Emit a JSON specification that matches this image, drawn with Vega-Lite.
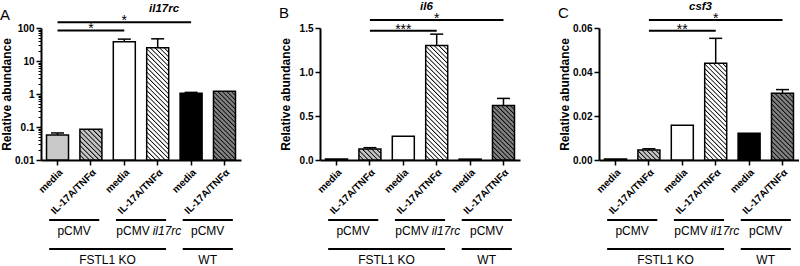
{
  "$schema": "https://vega.github.io/schema/vega-lite/v6.json",
  "background": "white",
  "padding": {"left": 0, "top": 0, "right": 0, "bottom": 0},
  "spacing": 38,
  "config": {
    "view": {"stroke": null},
    "font": "Liberation Sans",
    "axis": {"domainColor": "black", "domainWidth": 2, "tickColor": "black", "tickWidth": 1.5, "tickSize": 5, "labelFont": "Liberation Sans", "labelFontWeight": "bold", "labelFontSize": 10, "labelColor": "black", "titleFont": "Liberation Sans", "titleFontWeight": "bold", "titleFontSize": 12, "titleColor": "black", "grid": false},
    "title": {"font": "Liberation Sans", "color": "black"}
  },
  "datasets": {
    "bars": [
      {"panel": "A", "bar": "1|media", "value": 0.057, "upper": 0.066},
      {"panel": "A", "bar": "2|IL-17A/TNFα", "value": 0.085},
      {"panel": "A", "bar": "3|media", "value": 38, "upper": 46},
      {"panel": "A", "bar": "4|IL-17A/TNFα", "value": 25, "upper": 47},
      {"panel": "A", "bar": "5|media", "value": 1.05, "upper": 1.12},
      {"panel": "A", "bar": "6|IL-17A/TNFα", "value": 1.22},
      {"panel": "B", "bar": "1|media", "value": 0.012},
      {"panel": "B", "bar": "2|IL-17A/TNFα", "value": 0.125, "upper": 0.14},
      {"panel": "B", "bar": "3|media", "value": 0.27},
      {"panel": "B", "bar": "4|IL-17A/TNFα", "value": 1.3, "upper": 1.43},
      {"panel": "B", "bar": "5|media", "value": 0.01},
      {"panel": "B", "bar": "6|IL-17A/TNFα", "value": 0.62, "upper": 0.7},
      {"panel": "C", "bar": "1|media", "value": 0.0004},
      {"panel": "C", "bar": "2|IL-17A/TNFα", "value": 0.0045, "upper": 0.0051},
      {"panel": "C", "bar": "3|media", "value": 0.0158},
      {"panel": "C", "bar": "4|IL-17A/TNFα", "value": 0.044, "upper": 0.0553},
      {"panel": "C", "bar": "5|media", "value": 0.0122},
      {"panel": "C", "bar": "6|IL-17A/TNFα", "value": 0.0303, "upper": 0.032}
    ],
    "sig": [
      {"panel": "A", "from": "1|media", "to": "3|media", "mid": "2|IL-17A/TNFα", "y": 84, "label": "*"},
      {"panel": "A", "from": "1|media", "to": "5|media", "mid": "3|media", "y": 150, "label": "*"},
      {"panel": "B", "from": "2|IL-17A/TNFα", "to": "4|IL-17A/TNFα", "mid": "3|media", "y": 1.47, "label": "***"},
      {"panel": "B", "from": "2|IL-17A/TNFα", "to": "6|IL-17A/TNFα", "mid": "4|IL-17A/TNFα", "y": 1.59, "label": "*"},
      {"panel": "C", "from": "2|IL-17A/TNFα", "to": "4|IL-17A/TNFα", "mid": "3|media", "y": 0.0588, "label": "**"},
      {"panel": "C", "from": "2|IL-17A/TNFα", "to": "6|IL-17A/TNFα", "mid": "4|IL-17A/TNFα", "y": 0.0636, "label": "*"}
    ],
    "groups": [
      {"level": "1", "from": "1|media", "to": "2|IL-17A/TNFα", "mid": "2|IL-17A/TNFα", "label": "pCMV"},
      {"level": "1", "from": "3|media", "to": "4|IL-17A/TNFα", "mid": "4|IL-17A/TNFα", "label": "pCMV", "suffix": "il17rc"},
      {"level": "1", "from": "5|media", "to": "6|IL-17A/TNFα", "mid": "6|IL-17A/TNFα", "label": "pCMV"},
      {"level": "2", "from": "1|media", "to": "4|IL-17A/TNFα", "mid": "3|media", "label": "FSTL1 KO"},
      {"level": "2", "from": "5|media", "to": "6|IL-17A/TNFα", "mid": "6|IL-17A/TNFα", "label": "WT"}
    ]
  },
  "hconcat": [
    {
      "title": {"text": "A", "anchor": "start", "frame": "bounds", "fontSize": 15, "fontWeight": "normal", "offset": -20},
      "vconcat": [
        {
          "title": {"text": "il17rc", "fontStyle": "italic", "fontWeight": "bold", "fontSize": 11.5, "anchor": "start", "frame": "group", "dx": 108, "offset": 0},
          "width": 200, "height": 132,
          "resolve": {"scale": {"y": "independent"}},
          "layer": [
            {
              "layer": [
                {
                  "data": {"name": "bars"}, "transform": [{"filter": "datum.panel == 'A'"}],
                  "mark": {"type": "bar", "stroke": "black", "strokeWidth": 1.5},
                  "encoding": {
                    "x": {"field": "bar", "type": "nominal", "title": null, "scale": {"domain": ["1|media", "2|IL-17A/TNFα", "3|media", "4|IL-17A/TNFα", "5|media", "6|IL-17A/TNFα"], "paddingInner": 0.341, "paddingOuter": 0.165}, "axis": {"labelAngle": -45, "labelExpr": "split(datum.value, '|')[1]", "labelPadding": 2, "title": null}},
                    "y": {"field": "value", "type": "quantitative", "title": "Relative abundance", "scale": {"type": "log", "domain": [0.01, 100], "nice": false}, "axis": {"title": "Relative abundance", "values": [0.01, 0.1, 1, 10, 100], "format": "~g", "minExtent": 24, "maxExtent": 24, "labelPadding": 2, "titlePadding": 4}},
                    "y2": {"datum": 0.01},
                    "fill": {"field": "bar", "type": "nominal", "legend": null, "scale": {"domain": ["1|media", "2|IL-17A/TNFα", "3|media", "4|IL-17A/TNFα", "5|media", "6|IL-17A/TNFα"], "range": ["#c8c8c8", "#8c8c8c", "#ffffff", "#a8a8a8", "#000000", "#404040"]},
                      "condition": [
                        {"test": "datum.bar == '2|IL-17A/TNFα'", "value": {"gradient": "linear", "x1": 0, "y1": 1, "x2": 0.8127, "y2": -0.134, "stops": [
                          {"offset": 0, "color": "#000"}, {"offset": 0.0273, "color": "#c4c4c4"}, {"offset": 0.0727, "color": "#c4c4c4"},
                          {"offset": 0.0909, "color": "#000"}, {"offset": 0.1182, "color": "#c4c4c4"}, {"offset": 0.1636, "color": "#c4c4c4"},
                          {"offset": 0.1818, "color": "#000"}, {"offset": 0.2091, "color": "#c4c4c4"}, {"offset": 0.2545, "color": "#c4c4c4"},
                          {"offset": 0.2727, "color": "#000"}, {"offset": 0.3, "color": "#c4c4c4"}, {"offset": 0.3455, "color": "#c4c4c4"},
                          {"offset": 0.3636, "color": "#000"}, {"offset": 0.3909, "color": "#c4c4c4"}, {"offset": 0.4364, "color": "#c4c4c4"},
                          {"offset": 0.4545, "color": "#000"}, {"offset": 0.4818, "color": "#c4c4c4"}, {"offset": 0.5273, "color": "#c4c4c4"},
                          {"offset": 0.5455, "color": "#000"}, {"offset": 0.5727, "color": "#c4c4c4"}, {"offset": 0.6182, "color": "#c4c4c4"},
                          {"offset": 0.6364, "color": "#000"}, {"offset": 0.6636, "color": "#c4c4c4"}, {"offset": 0.7091, "color": "#c4c4c4"},
                          {"offset": 0.7273, "color": "#000"}, {"offset": 0.7545, "color": "#c4c4c4"}, {"offset": 0.8, "color": "#c4c4c4"},
                          {"offset": 0.8182, "color": "#000"}, {"offset": 0.8455, "color": "#c4c4c4"}, {"offset": 0.8909, "color": "#c4c4c4"},
                          {"offset": 0.9091, "color": "#000"}, {"offset": 0.9364, "color": "#c4c4c4"}, {"offset": 0.9818, "color": "#c4c4c4"},
                          {"offset": 1, "color": "#000"}]}},
                        {"test": "datum.bar == '4|IL-17A/TNFα'", "value": {"gradient": "linear", "x1": 0, "y1": 1, "x2": 0.2263, "y2": -0.152, "stops": [
                          {"offset": 0, "color": "#000"}, {"offset": 0.0103, "color": "#fff"}, {"offset": 0.0276, "color": "#fff"},
                          {"offset": 0.0345, "color": "#000"}, {"offset": 0.0448, "color": "#fff"}, {"offset": 0.0621, "color": "#fff"},
                          {"offset": 0.069, "color": "#000"}, {"offset": 0.0793, "color": "#fff"}, {"offset": 0.0966, "color": "#fff"},
                          {"offset": 0.1034, "color": "#000"}, {"offset": 0.1138, "color": "#fff"}, {"offset": 0.131, "color": "#fff"},
                          {"offset": 0.1379, "color": "#000"}, {"offset": 0.1483, "color": "#fff"}, {"offset": 0.1655, "color": "#fff"},
                          {"offset": 0.1724, "color": "#000"}, {"offset": 0.1828, "color": "#fff"}, {"offset": 0.2, "color": "#fff"},
                          {"offset": 0.2069, "color": "#000"}, {"offset": 0.2172, "color": "#fff"}, {"offset": 0.2345, "color": "#fff"},
                          {"offset": 0.2414, "color": "#000"}, {"offset": 0.2517, "color": "#fff"}, {"offset": 0.269, "color": "#fff"},
                          {"offset": 0.2759, "color": "#000"}, {"offset": 0.2862, "color": "#fff"}, {"offset": 0.3034, "color": "#fff"},
                          {"offset": 0.3103, "color": "#000"}, {"offset": 0.3207, "color": "#fff"}, {"offset": 0.3379, "color": "#fff"},
                          {"offset": 0.3448, "color": "#000"}, {"offset": 0.3552, "color": "#fff"}, {"offset": 0.3724, "color": "#fff"},
                          {"offset": 0.3793, "color": "#000"}, {"offset": 0.3897, "color": "#fff"}, {"offset": 0.4069, "color": "#fff"},
                          {"offset": 0.4138, "color": "#000"}, {"offset": 0.4241, "color": "#fff"}, {"offset": 0.4414, "color": "#fff"},
                          {"offset": 0.4483, "color": "#000"}, {"offset": 0.4586, "color": "#fff"}, {"offset": 0.4759, "color": "#fff"},
                          {"offset": 0.4828, "color": "#000"}, {"offset": 0.4931, "color": "#fff"}, {"offset": 0.5103, "color": "#fff"},
                          {"offset": 0.5172, "color": "#000"}, {"offset": 0.5276, "color": "#fff"}, {"offset": 0.5448, "color": "#fff"},
                          {"offset": 0.5517, "color": "#000"}, {"offset": 0.5621, "color": "#fff"}, {"offset": 0.5793, "color": "#fff"},
                          {"offset": 0.5862, "color": "#000"}, {"offset": 0.5966, "color": "#fff"}, {"offset": 0.6138, "color": "#fff"},
                          {"offset": 0.6207, "color": "#000"}, {"offset": 0.631, "color": "#fff"}, {"offset": 0.6483, "color": "#fff"},
                          {"offset": 0.6552, "color": "#000"}, {"offset": 0.6655, "color": "#fff"}, {"offset": 0.6828, "color": "#fff"},
                          {"offset": 0.6897, "color": "#000"}, {"offset": 0.7, "color": "#fff"}, {"offset": 0.7172, "color": "#fff"},
                          {"offset": 0.7241, "color": "#000"}, {"offset": 0.7345, "color": "#fff"}, {"offset": 0.7517, "color": "#fff"},
                          {"offset": 0.7586, "color": "#000"}, {"offset": 0.769, "color": "#fff"}, {"offset": 0.7862, "color": "#fff"},
                          {"offset": 0.7931, "color": "#000"}, {"offset": 0.8034, "color": "#fff"}, {"offset": 0.8207, "color": "#fff"},
                          {"offset": 0.8276, "color": "#000"}, {"offset": 0.8379, "color": "#fff"}, {"offset": 0.8552, "color": "#fff"},
                          {"offset": 0.8621, "color": "#000"}, {"offset": 0.8724, "color": "#fff"}, {"offset": 0.8897, "color": "#fff"},
                          {"offset": 0.8966, "color": "#000"}, {"offset": 0.9069, "color": "#fff"}, {"offset": 0.9241, "color": "#fff"},
                          {"offset": 0.931, "color": "#000"}, {"offset": 0.9414, "color": "#fff"}, {"offset": 0.9586, "color": "#fff"},
                          {"offset": 0.9655, "color": "#000"}, {"offset": 0.9759, "color": "#fff"}, {"offset": 0.9931, "color": "#fff"},
                          {"offset": 1, "color": "#000"}]}},
                        {"test": "datum.bar == '6|IL-17A/TNFα'", "value": {"gradient": "linear", "x1": 0, "y1": 1, "x2": 0.3823, "y2": -0.197, "stops": [
                          {"offset": 0, "color": "#000"}, {"offset": 0.015, "color": "#808080"}, {"offset": 0.04, "color": "#808080"},
                          {"offset": 0.05, "color": "#000"}, {"offset": 0.065, "color": "#808080"}, {"offset": 0.09, "color": "#808080"},
                          {"offset": 0.1, "color": "#000"}, {"offset": 0.115, "color": "#808080"}, {"offset": 0.14, "color": "#808080"},
                          {"offset": 0.15, "color": "#000"}, {"offset": 0.165, "color": "#808080"}, {"offset": 0.19, "color": "#808080"},
                          {"offset": 0.2, "color": "#000"}, {"offset": 0.215, "color": "#808080"}, {"offset": 0.24, "color": "#808080"},
                          {"offset": 0.25, "color": "#000"}, {"offset": 0.265, "color": "#808080"}, {"offset": 0.29, "color": "#808080"},
                          {"offset": 0.3, "color": "#000"}, {"offset": 0.315, "color": "#808080"}, {"offset": 0.34, "color": "#808080"},
                          {"offset": 0.35, "color": "#000"}, {"offset": 0.365, "color": "#808080"}, {"offset": 0.39, "color": "#808080"},
                          {"offset": 0.4, "color": "#000"}, {"offset": 0.415, "color": "#808080"}, {"offset": 0.44, "color": "#808080"},
                          {"offset": 0.45, "color": "#000"}, {"offset": 0.465, "color": "#808080"}, {"offset": 0.49, "color": "#808080"},
                          {"offset": 0.5, "color": "#000"}, {"offset": 0.515, "color": "#808080"}, {"offset": 0.54, "color": "#808080"},
                          {"offset": 0.55, "color": "#000"}, {"offset": 0.565, "color": "#808080"}, {"offset": 0.59, "color": "#808080"},
                          {"offset": 0.6, "color": "#000"}, {"offset": 0.615, "color": "#808080"}, {"offset": 0.64, "color": "#808080"},
                          {"offset": 0.65, "color": "#000"}, {"offset": 0.665, "color": "#808080"}, {"offset": 0.69, "color": "#808080"},
                          {"offset": 0.7, "color": "#000"}, {"offset": 0.715, "color": "#808080"}, {"offset": 0.74, "color": "#808080"},
                          {"offset": 0.75, "color": "#000"}, {"offset": 0.765, "color": "#808080"}, {"offset": 0.79, "color": "#808080"},
                          {"offset": 0.8, "color": "#000"}, {"offset": 0.815, "color": "#808080"}, {"offset": 0.84, "color": "#808080"},
                          {"offset": 0.85, "color": "#000"}, {"offset": 0.865, "color": "#808080"}, {"offset": 0.89, "color": "#808080"},
                          {"offset": 0.9, "color": "#000"}, {"offset": 0.915, "color": "#808080"}, {"offset": 0.94, "color": "#808080"},
                          {"offset": 0.95, "color": "#000"}, {"offset": 0.965, "color": "#808080"}, {"offset": 0.99, "color": "#808080"},
                          {"offset": 1, "color": "#000"}]}}
                      ]
                    }
                  }
                },
                {
                  "data": {"name": "bars"}, "transform": [{"filter": "datum.panel == 'A' && isValid(datum.upper)"}],
                  "mark": {"type": "rule", "strokeWidth": 1.5, "color": "black"},
                  "encoding": {"x": {"field": "bar", "type": "nominal", "title": null}, "y": {"field": "value", "type": "quantitative", "title": "Relative abundance"}, "y2": {"field": "upper"}}
                },
                {
                  "data": {"name": "bars"}, "transform": [{"filter": "datum.panel == 'A' && isValid(datum.upper)"}],
                  "mark": {"type": "tick", "thickness": 1.5, "size": 13, "color": "black", "opacity": 1},
                  "encoding": {"x": {"field": "bar", "type": "nominal", "title": null}, "y": {"field": "upper", "type": "quantitative", "title": "Relative abundance"}}
                },
                {
                  "data": {"name": "sig"}, "transform": [{"filter": "datum.panel == 'A'"}],
                  "mark": {"type": "rule", "strokeWidth": 2, "color": "black"},
                  "encoding": {"x": {"field": "from", "type": "nominal", "title": null}, "x2": {"field": "to"}, "y": {"field": "y", "type": "quantitative", "title": "Relative abundance"}}
                },
                {
                  "data": {"name": "sig"}, "transform": [{"filter": "datum.panel == 'A'"}],
                  "mark": {"type": "text", "fontSize": 14, "baseline": "alphabetic", "dy": 3, "color": "black"},
                  "encoding": {"x": {"field": "mid", "type": "nominal", "title": null}, "y": {"field": "y", "type": "quantitative", "title": "Relative abundance"}, "text": {"field": "label"}}
                }
              ]
            },
            {
              "data": {"name": "bars"}, "transform": [{"filter": "datum.panel == 'A'"}],
              "mark": {"type": "tick", "opacity": 0},
              "encoding": {
                "x": {"field": "bar", "type": "nominal", "title": null},
                "y": {"field": "value", "type": "quantitative", "scale": {"type": "log", "domain": [0.01, 100], "nice": false}, "axis": {"orient": "left", "title": null, "labels": false, "domain": false, "tickSize": 3, "tickWidth": 1, "values": [0.02, 0.03, 0.04, 0.05, 0.06, 0.07, 0.08, 0.09, 0.2, 0.3, 0.4, 0.5, 0.6, 0.7, 0.8, 0.9, 2, 3, 4, 5, 6, 7, 8, 9, 20, 30, 40, 50, 60, 70, 80, 90]}}
              }
            },
            {
              "data": {"name": "groups"},
              "encoding": {"y": {"field": "level", "type": "ordinal", "scale": {"type": "point", "domain": ["1", "2"], "range": [192, 221], "padding": 0}, "axis": null}},
              "layer": [
                {"mark": {"type": "rule", "strokeWidth": 2, "color": "black"}, "encoding": {"x": {"field": "from", "type": "nominal", "bandPosition": 0.12, "title": null}, "x2": {"field": "to", "bandPosition": 0.88}}},
                {"transform": [{"filter": "!isValid(datum.suffix)"}], "mark": {"type": "text", "fontSize": 12, "baseline": "middle", "dy": 11, "dx": -5.8, "color": "black"}, "encoding": {"x": {"field": "mid", "type": "nominal", "bandPosition": 0, "title": null}, "text": {"field": "label"}}},
                {"transform": [{"filter": "isValid(datum.suffix)"}], "mark": {"type": "text", "fontSize": 12, "baseline": "middle", "align": "right", "dy": 11, "dx": 3, "color": "black"}, "encoding": {"x": {"field": "mid", "type": "nominal", "bandPosition": 0, "title": null}, "text": {"field": "label"}}},
                {"transform": [{"filter": "isValid(datum.suffix)"}], "mark": {"type": "text", "fontSize": 12, "fontStyle": "italic", "baseline": "middle", "align": "left", "dy": 11, "dx": 6, "color": "black"}, "encoding": {"x": {"field": "mid", "type": "nominal", "bandPosition": 0, "title": null}, "text": {"field": "suffix"}}}
              ]
            }
          ]
        }
      ]
    },
    {
      "title": {"text": "B", "anchor": "start", "frame": "bounds", "fontSize": 15, "fontWeight": "normal", "offset": -20},
      "vconcat": [
        {
          "title": {"text": "il6", "fontStyle": "italic", "fontWeight": "bold", "fontSize": 11.5, "anchor": "start", "frame": "group", "dx": 100, "offset": 0},
          "width": 200, "height": 132,
          "resolve": {"scale": {"y": "independent"}},
          "layer": [
            {
              "layer": [
                {
                  "data": {"name": "bars"}, "transform": [{"filter": "datum.panel == 'B'"}],
                  "mark": {"type": "bar", "stroke": "black", "strokeWidth": 1.5},
                  "encoding": {
                    "x": {"field": "bar", "type": "nominal", "title": null, "scale": {"domain": ["1|media", "2|IL-17A/TNFα", "3|media", "4|IL-17A/TNFα", "5|media", "6|IL-17A/TNFα"], "paddingInner": 0.341, "paddingOuter": 0.165}, "axis": {"labelAngle": -45, "labelExpr": "split(datum.value, '|')[1]", "labelPadding": 2, "title": null}},
                    "y": {"field": "value", "type": "quantitative", "title": "Relative abundance", "scale": {"domain": [0, 1.5], "nice": false}, "axis": {"title": "Relative abundance", "values": [0, 0.5, 1, 1.5], "format": ".1f", "minExtent": 24, "maxExtent": 24, "labelPadding": 2, "titlePadding": 4}},
                    "fill": {"field": "bar", "type": "nominal", "legend": null, "scale": {"domain": ["1|media", "2|IL-17A/TNFα", "3|media", "4|IL-17A/TNFα", "5|media", "6|IL-17A/TNFα"], "range": ["#c8c8c8", "#8c8c8c", "#ffffff", "#a8a8a8", "#000000", "#404040"]},
                      "condition": [
                        {"test": "datum.bar == '2|IL-17A/TNFα'", "value": {"gradient": "linear", "x1": 0, "y1": 1, "x2": 1.2, "y2": 0.4, "stops": [
                          {"offset": 0, "color": "#000"}, {"offset": 0.0429, "color": "#c4c4c4"}, {"offset": 0.1143, "color": "#c4c4c4"},
                          {"offset": 0.1429, "color": "#000"}, {"offset": 0.1857, "color": "#c4c4c4"}, {"offset": 0.2571, "color": "#c4c4c4"},
                          {"offset": 0.2857, "color": "#000"}, {"offset": 0.3286, "color": "#c4c4c4"}, {"offset": 0.4, "color": "#c4c4c4"},
                          {"offset": 0.4286, "color": "#000"}, {"offset": 0.4714, "color": "#c4c4c4"}, {"offset": 0.5429, "color": "#c4c4c4"},
                          {"offset": 0.5714, "color": "#000"}, {"offset": 0.6143, "color": "#c4c4c4"}, {"offset": 0.6857, "color": "#c4c4c4"},
                          {"offset": 0.7143, "color": "#000"}, {"offset": 0.7571, "color": "#c4c4c4"}, {"offset": 0.8286, "color": "#c4c4c4"},
                          {"offset": 0.8571, "color": "#000"}, {"offset": 0.9, "color": "#c4c4c4"}, {"offset": 0.9714, "color": "#c4c4c4"},
                          {"offset": 1, "color": "#000"}]}},
                        {"test": "datum.bar == '4|IL-17A/TNFα'", "value": {"gradient": "linear", "x1": 0, "y1": 1, "x2": 0.2211, "y2": -0.15, "stops": [
                          {"offset": 0, "color": "#000"}, {"offset": 0.01, "color": "#fff"}, {"offset": 0.0267, "color": "#fff"},
                          {"offset": 0.0333, "color": "#000"}, {"offset": 0.0433, "color": "#fff"}, {"offset": 0.06, "color": "#fff"},
                          {"offset": 0.0667, "color": "#000"}, {"offset": 0.0767, "color": "#fff"}, {"offset": 0.0933, "color": "#fff"},
                          {"offset": 0.1, "color": "#000"}, {"offset": 0.11, "color": "#fff"}, {"offset": 0.1267, "color": "#fff"},
                          {"offset": 0.1333, "color": "#000"}, {"offset": 0.1433, "color": "#fff"}, {"offset": 0.16, "color": "#fff"},
                          {"offset": 0.1667, "color": "#000"}, {"offset": 0.1767, "color": "#fff"}, {"offset": 0.1933, "color": "#fff"},
                          {"offset": 0.2, "color": "#000"}, {"offset": 0.21, "color": "#fff"}, {"offset": 0.2267, "color": "#fff"},
                          {"offset": 0.2333, "color": "#000"}, {"offset": 0.2433, "color": "#fff"}, {"offset": 0.26, "color": "#fff"},
                          {"offset": 0.2667, "color": "#000"}, {"offset": 0.2767, "color": "#fff"}, {"offset": 0.2933, "color": "#fff"},
                          {"offset": 0.3, "color": "#000"}, {"offset": 0.31, "color": "#fff"}, {"offset": 0.3267, "color": "#fff"},
                          {"offset": 0.3333, "color": "#000"}, {"offset": 0.3433, "color": "#fff"}, {"offset": 0.36, "color": "#fff"},
                          {"offset": 0.3667, "color": "#000"}, {"offset": 0.3767, "color": "#fff"}, {"offset": 0.3933, "color": "#fff"},
                          {"offset": 0.4, "color": "#000"}, {"offset": 0.41, "color": "#fff"}, {"offset": 0.4267, "color": "#fff"},
                          {"offset": 0.4333, "color": "#000"}, {"offset": 0.4433, "color": "#fff"}, {"offset": 0.46, "color": "#fff"},
                          {"offset": 0.4667, "color": "#000"}, {"offset": 0.4767, "color": "#fff"}, {"offset": 0.4933, "color": "#fff"},
                          {"offset": 0.5, "color": "#000"}, {"offset": 0.51, "color": "#fff"}, {"offset": 0.5267, "color": "#fff"},
                          {"offset": 0.5333, "color": "#000"}, {"offset": 0.5433, "color": "#fff"}, {"offset": 0.56, "color": "#fff"},
                          {"offset": 0.5667, "color": "#000"}, {"offset": 0.5767, "color": "#fff"}, {"offset": 0.5933, "color": "#fff"},
                          {"offset": 0.6, "color": "#000"}, {"offset": 0.61, "color": "#fff"}, {"offset": 0.6267, "color": "#fff"},
                          {"offset": 0.6333, "color": "#000"}, {"offset": 0.6433, "color": "#fff"}, {"offset": 0.66, "color": "#fff"},
                          {"offset": 0.6667, "color": "#000"}, {"offset": 0.6767, "color": "#fff"}, {"offset": 0.6933, "color": "#fff"},
                          {"offset": 0.7, "color": "#000"}, {"offset": 0.71, "color": "#fff"}, {"offset": 0.7267, "color": "#fff"},
                          {"offset": 0.7333, "color": "#000"}, {"offset": 0.7433, "color": "#fff"}, {"offset": 0.76, "color": "#fff"},
                          {"offset": 0.7667, "color": "#000"}, {"offset": 0.7767, "color": "#fff"}, {"offset": 0.7933, "color": "#fff"},
                          {"offset": 0.8, "color": "#000"}, {"offset": 0.81, "color": "#fff"}, {"offset": 0.8267, "color": "#fff"},
                          {"offset": 0.8333, "color": "#000"}, {"offset": 0.8433, "color": "#fff"}, {"offset": 0.86, "color": "#fff"},
                          {"offset": 0.8667, "color": "#000"}, {"offset": 0.8767, "color": "#fff"}, {"offset": 0.8933, "color": "#fff"},
                          {"offset": 0.9, "color": "#000"}, {"offset": 0.91, "color": "#fff"}, {"offset": 0.9267, "color": "#fff"},
                          {"offset": 0.9333, "color": "#000"}, {"offset": 0.9433, "color": "#fff"}, {"offset": 0.96, "color": "#fff"},
                          {"offset": 0.9667, "color": "#000"}, {"offset": 0.9767, "color": "#fff"}, {"offset": 0.9933, "color": "#fff"},
                          {"offset": 1, "color": "#000"}]}},
                        {"test": "datum.bar == '6|IL-17A/TNFα'", "value": {"gradient": "linear", "x1": 0, "y1": 1, "x2": 0.4864, "y2": -0.207, "stops": [
                          {"offset": 0, "color": "#000"}, {"offset": 0.0176, "color": "#808080"}, {"offset": 0.0471, "color": "#808080"},
                          {"offset": 0.0588, "color": "#000"}, {"offset": 0.0765, "color": "#808080"}, {"offset": 0.1059, "color": "#808080"},
                          {"offset": 0.1176, "color": "#000"}, {"offset": 0.1353, "color": "#808080"}, {"offset": 0.1647, "color": "#808080"},
                          {"offset": 0.1765, "color": "#000"}, {"offset": 0.1941, "color": "#808080"}, {"offset": 0.2235, "color": "#808080"},
                          {"offset": 0.2353, "color": "#000"}, {"offset": 0.2529, "color": "#808080"}, {"offset": 0.2824, "color": "#808080"},
                          {"offset": 0.2941, "color": "#000"}, {"offset": 0.3118, "color": "#808080"}, {"offset": 0.3412, "color": "#808080"},
                          {"offset": 0.3529, "color": "#000"}, {"offset": 0.3706, "color": "#808080"}, {"offset": 0.4, "color": "#808080"},
                          {"offset": 0.4118, "color": "#000"}, {"offset": 0.4294, "color": "#808080"}, {"offset": 0.4588, "color": "#808080"},
                          {"offset": 0.4706, "color": "#000"}, {"offset": 0.4882, "color": "#808080"}, {"offset": 0.5176, "color": "#808080"},
                          {"offset": 0.5294, "color": "#000"}, {"offset": 0.5471, "color": "#808080"}, {"offset": 0.5765, "color": "#808080"},
                          {"offset": 0.5882, "color": "#000"}, {"offset": 0.6059, "color": "#808080"}, {"offset": 0.6353, "color": "#808080"},
                          {"offset": 0.6471, "color": "#000"}, {"offset": 0.6647, "color": "#808080"}, {"offset": 0.6941, "color": "#808080"},
                          {"offset": 0.7059, "color": "#000"}, {"offset": 0.7235, "color": "#808080"}, {"offset": 0.7529, "color": "#808080"},
                          {"offset": 0.7647, "color": "#000"}, {"offset": 0.7824, "color": "#808080"}, {"offset": 0.8118, "color": "#808080"},
                          {"offset": 0.8235, "color": "#000"}, {"offset": 0.8412, "color": "#808080"}, {"offset": 0.8706, "color": "#808080"},
                          {"offset": 0.8824, "color": "#000"}, {"offset": 0.9, "color": "#808080"}, {"offset": 0.9294, "color": "#808080"},
                          {"offset": 0.9412, "color": "#000"}, {"offset": 0.9588, "color": "#808080"}, {"offset": 0.9882, "color": "#808080"},
                          {"offset": 1, "color": "#000"}]}}
                      ]
                    }
                  }
                },
                {
                  "data": {"name": "bars"}, "transform": [{"filter": "datum.panel == 'B' && isValid(datum.upper)"}],
                  "mark": {"type": "rule", "strokeWidth": 1.5, "color": "black"},
                  "encoding": {"x": {"field": "bar", "type": "nominal", "title": null}, "y": {"field": "value", "type": "quantitative", "title": "Relative abundance"}, "y2": {"field": "upper"}}
                },
                {
                  "data": {"name": "bars"}, "transform": [{"filter": "datum.panel == 'B' && isValid(datum.upper)"}],
                  "mark": {"type": "tick", "thickness": 1.5, "size": 13, "color": "black", "opacity": 1},
                  "encoding": {"x": {"field": "bar", "type": "nominal", "title": null}, "y": {"field": "upper", "type": "quantitative", "title": "Relative abundance"}}
                },
                {
                  "data": {"name": "sig"}, "transform": [{"filter": "datum.panel == 'B'"}],
                  "mark": {"type": "rule", "strokeWidth": 2, "color": "black"},
                  "encoding": {"x": {"field": "from", "type": "nominal", "title": null}, "x2": {"field": "to"}, "y": {"field": "y", "type": "quantitative", "title": "Relative abundance"}}
                },
                {
                  "data": {"name": "sig"}, "transform": [{"filter": "datum.panel == 'B'"}],
                  "mark": {"type": "text", "fontSize": 14, "baseline": "alphabetic", "dy": 3, "color": "black"},
                  "encoding": {"x": {"field": "mid", "type": "nominal", "title": null}, "y": {"field": "y", "type": "quantitative", "title": "Relative abundance"}, "text": {"field": "label"}}
                }
              ]
            },
            {
              "data": {"name": "groups"},
              "encoding": {"y": {"field": "level", "type": "ordinal", "scale": {"type": "point", "domain": ["1", "2"], "range": [192, 221], "padding": 0}, "axis": null}},
              "layer": [
                {"mark": {"type": "rule", "strokeWidth": 2, "color": "black"}, "encoding": {"x": {"field": "from", "type": "nominal", "bandPosition": 0.12, "title": null}, "x2": {"field": "to", "bandPosition": 0.88}}},
                {"transform": [{"filter": "!isValid(datum.suffix)"}], "mark": {"type": "text", "fontSize": 12, "baseline": "middle", "dy": 11, "dx": -5.8, "color": "black"}, "encoding": {"x": {"field": "mid", "type": "nominal", "bandPosition": 0, "title": null}, "text": {"field": "label"}}},
                {"transform": [{"filter": "isValid(datum.suffix)"}], "mark": {"type": "text", "fontSize": 12, "baseline": "middle", "align": "right", "dy": 11, "dx": 3, "color": "black"}, "encoding": {"x": {"field": "mid", "type": "nominal", "bandPosition": 0, "title": null}, "text": {"field": "label"}}},
                {"transform": [{"filter": "isValid(datum.suffix)"}], "mark": {"type": "text", "fontSize": 12, "fontStyle": "italic", "baseline": "middle", "align": "left", "dy": 11, "dx": 6, "color": "black"}, "encoding": {"x": {"field": "mid", "type": "nominal", "bandPosition": 0, "title": null}, "text": {"field": "suffix"}}}
              ]
            }
          ]
        }
      ]
    },
    {
      "title": {"text": "C", "anchor": "start", "frame": "bounds", "fontSize": 15, "fontWeight": "normal", "offset": -20},
      "vconcat": [
        {
          "title": {"text": "csf3", "fontStyle": "italic", "fontWeight": "bold", "fontSize": 11.5, "anchor": "start", "frame": "group", "dx": 90, "offset": 0},
          "width": 200, "height": 132,
          "resolve": {"scale": {"y": "independent"}},
          "layer": [
            {
              "layer": [
                {
                  "data": {"name": "bars"}, "transform": [{"filter": "datum.panel == 'C'"}],
                  "mark": {"type": "bar", "stroke": "black", "strokeWidth": 1.5},
                  "encoding": {
                    "x": {"field": "bar", "type": "nominal", "title": null, "scale": {"domain": ["1|media", "2|IL-17A/TNFα", "3|media", "4|IL-17A/TNFα", "5|media", "6|IL-17A/TNFα"], "paddingInner": 0.341, "paddingOuter": 0.165}, "axis": {"labelAngle": -45, "labelExpr": "split(datum.value, '|')[1]", "labelPadding": 2, "title": null}},
                    "y": {"field": "value", "type": "quantitative", "title": "Relative abundance", "scale": {"domain": [0, 0.06], "nice": false}, "axis": {"title": "Relative abundance", "values": [0, 0.02, 0.04, 0.06], "format": ".2f", "minExtent": 24, "maxExtent": 24, "labelPadding": 2, "titlePadding": 4}},
                    "fill": {"field": "bar", "type": "nominal", "legend": null, "scale": {"domain": ["1|media", "2|IL-17A/TNFα", "3|media", "4|IL-17A/TNFα", "5|media", "6|IL-17A/TNFα"], "range": ["#c8c8c8", "#8c8c8c", "#ffffff", "#a8a8a8", "#000000", "#404040"]},
                      "condition": [
                        {"test": "datum.bar == '2|IL-17A/TNFα'", "value": {"gradient": "linear", "x1": 0, "y1": 1, "x2": 1.2058, "y2": 0.457, "stops": [
                          {"offset": 0, "color": "#000"}, {"offset": 0.0429, "color": "#c4c4c4"}, {"offset": 0.1143, "color": "#c4c4c4"},
                          {"offset": 0.1429, "color": "#000"}, {"offset": 0.1857, "color": "#c4c4c4"}, {"offset": 0.2571, "color": "#c4c4c4"},
                          {"offset": 0.2857, "color": "#000"}, {"offset": 0.3286, "color": "#c4c4c4"}, {"offset": 0.4, "color": "#c4c4c4"},
                          {"offset": 0.4286, "color": "#000"}, {"offset": 0.4714, "color": "#c4c4c4"}, {"offset": 0.5429, "color": "#c4c4c4"},
                          {"offset": 0.5714, "color": "#000"}, {"offset": 0.6143, "color": "#c4c4c4"}, {"offset": 0.6857, "color": "#c4c4c4"},
                          {"offset": 0.7143, "color": "#000"}, {"offset": 0.7571, "color": "#c4c4c4"}, {"offset": 0.8286, "color": "#c4c4c4"},
                          {"offset": 0.8571, "color": "#000"}, {"offset": 0.9, "color": "#c4c4c4"}, {"offset": 0.9714, "color": "#c4c4c4"},
                          {"offset": 1, "color": "#000"}]}},
                        {"test": "datum.bar == '4|IL-17A/TNFα'", "value": {"gradient": "linear", "x1": 0, "y1": 1, "x2": 0.2652, "y2": -0.167, "stops": [
                          {"offset": 0, "color": "#000"}, {"offset": 0.0115, "color": "#fff"}, {"offset": 0.0308, "color": "#fff"},
                          {"offset": 0.0385, "color": "#000"}, {"offset": 0.05, "color": "#fff"}, {"offset": 0.0692, "color": "#fff"},
                          {"offset": 0.0769, "color": "#000"}, {"offset": 0.0885, "color": "#fff"}, {"offset": 0.1077, "color": "#fff"},
                          {"offset": 0.1154, "color": "#000"}, {"offset": 0.1269, "color": "#fff"}, {"offset": 0.1462, "color": "#fff"},
                          {"offset": 0.1538, "color": "#000"}, {"offset": 0.1654, "color": "#fff"}, {"offset": 0.1846, "color": "#fff"},
                          {"offset": 0.1923, "color": "#000"}, {"offset": 0.2038, "color": "#fff"}, {"offset": 0.2231, "color": "#fff"},
                          {"offset": 0.2308, "color": "#000"}, {"offset": 0.2423, "color": "#fff"}, {"offset": 0.2615, "color": "#fff"},
                          {"offset": 0.2692, "color": "#000"}, {"offset": 0.2808, "color": "#fff"}, {"offset": 0.3, "color": "#fff"},
                          {"offset": 0.3077, "color": "#000"}, {"offset": 0.3192, "color": "#fff"}, {"offset": 0.3385, "color": "#fff"},
                          {"offset": 0.3462, "color": "#000"}, {"offset": 0.3577, "color": "#fff"}, {"offset": 0.3769, "color": "#fff"},
                          {"offset": 0.3846, "color": "#000"}, {"offset": 0.3962, "color": "#fff"}, {"offset": 0.4154, "color": "#fff"},
                          {"offset": 0.4231, "color": "#000"}, {"offset": 0.4346, "color": "#fff"}, {"offset": 0.4538, "color": "#fff"},
                          {"offset": 0.4615, "color": "#000"}, {"offset": 0.4731, "color": "#fff"}, {"offset": 0.4923, "color": "#fff"},
                          {"offset": 0.5, "color": "#000"}, {"offset": 0.5115, "color": "#fff"}, {"offset": 0.5308, "color": "#fff"},
                          {"offset": 0.5385, "color": "#000"}, {"offset": 0.55, "color": "#fff"}, {"offset": 0.5692, "color": "#fff"},
                          {"offset": 0.5769, "color": "#000"}, {"offset": 0.5885, "color": "#fff"}, {"offset": 0.6077, "color": "#fff"},
                          {"offset": 0.6154, "color": "#000"}, {"offset": 0.6269, "color": "#fff"}, {"offset": 0.6462, "color": "#fff"},
                          {"offset": 0.6538, "color": "#000"}, {"offset": 0.6654, "color": "#fff"}, {"offset": 0.6846, "color": "#fff"},
                          {"offset": 0.6923, "color": "#000"}, {"offset": 0.7038, "color": "#fff"}, {"offset": 0.7231, "color": "#fff"},
                          {"offset": 0.7308, "color": "#000"}, {"offset": 0.7423, "color": "#fff"}, {"offset": 0.7615, "color": "#fff"},
                          {"offset": 0.7692, "color": "#000"}, {"offset": 0.7808, "color": "#fff"}, {"offset": 0.8, "color": "#fff"},
                          {"offset": 0.8077, "color": "#000"}, {"offset": 0.8192, "color": "#fff"}, {"offset": 0.8385, "color": "#fff"},
                          {"offset": 0.8462, "color": "#000"}, {"offset": 0.8577, "color": "#fff"}, {"offset": 0.8769, "color": "#fff"},
                          {"offset": 0.8846, "color": "#000"}, {"offset": 0.8962, "color": "#fff"}, {"offset": 0.9154, "color": "#fff"},
                          {"offset": 0.9231, "color": "#000"}, {"offset": 0.9346, "color": "#fff"}, {"offset": 0.9538, "color": "#fff"},
                          {"offset": 0.9615, "color": "#000"}, {"offset": 0.9731, "color": "#fff"}, {"offset": 0.9923, "color": "#fff"},
                          {"offset": 1, "color": "#000"}]}},
                        {"test": "datum.bar == '6|IL-17A/TNFα'", "value": {"gradient": "linear", "x1": 0, "y1": 1, "x2": 0.3956, "y2": -0.199, "stops": [
                          {"offset": 0, "color": "#000"}, {"offset": 0.0158, "color": "#808080"}, {"offset": 0.0421, "color": "#808080"},
                          {"offset": 0.0526, "color": "#000"}, {"offset": 0.0684, "color": "#808080"}, {"offset": 0.0947, "color": "#808080"},
                          {"offset": 0.1053, "color": "#000"}, {"offset": 0.1211, "color": "#808080"}, {"offset": 0.1474, "color": "#808080"},
                          {"offset": 0.1579, "color": "#000"}, {"offset": 0.1737, "color": "#808080"}, {"offset": 0.2, "color": "#808080"},
                          {"offset": 0.2105, "color": "#000"}, {"offset": 0.2263, "color": "#808080"}, {"offset": 0.2526, "color": "#808080"},
                          {"offset": 0.2632, "color": "#000"}, {"offset": 0.2789, "color": "#808080"}, {"offset": 0.3053, "color": "#808080"},
                          {"offset": 0.3158, "color": "#000"}, {"offset": 0.3316, "color": "#808080"}, {"offset": 0.3579, "color": "#808080"},
                          {"offset": 0.3684, "color": "#000"}, {"offset": 0.3842, "color": "#808080"}, {"offset": 0.4105, "color": "#808080"},
                          {"offset": 0.4211, "color": "#000"}, {"offset": 0.4368, "color": "#808080"}, {"offset": 0.4632, "color": "#808080"},
                          {"offset": 0.4737, "color": "#000"}, {"offset": 0.4895, "color": "#808080"}, {"offset": 0.5158, "color": "#808080"},
                          {"offset": 0.5263, "color": "#000"}, {"offset": 0.5421, "color": "#808080"}, {"offset": 0.5684, "color": "#808080"},
                          {"offset": 0.5789, "color": "#000"}, {"offset": 0.5947, "color": "#808080"}, {"offset": 0.6211, "color": "#808080"},
                          {"offset": 0.6316, "color": "#000"}, {"offset": 0.6474, "color": "#808080"}, {"offset": 0.6737, "color": "#808080"},
                          {"offset": 0.6842, "color": "#000"}, {"offset": 0.7, "color": "#808080"}, {"offset": 0.7263, "color": "#808080"},
                          {"offset": 0.7368, "color": "#000"}, {"offset": 0.7526, "color": "#808080"}, {"offset": 0.7789, "color": "#808080"},
                          {"offset": 0.7895, "color": "#000"}, {"offset": 0.8053, "color": "#808080"}, {"offset": 0.8316, "color": "#808080"},
                          {"offset": 0.8421, "color": "#000"}, {"offset": 0.8579, "color": "#808080"}, {"offset": 0.8842, "color": "#808080"},
                          {"offset": 0.8947, "color": "#000"}, {"offset": 0.9105, "color": "#808080"}, {"offset": 0.9368, "color": "#808080"},
                          {"offset": 0.9474, "color": "#000"}, {"offset": 0.9632, "color": "#808080"}, {"offset": 0.9895, "color": "#808080"},
                          {"offset": 1, "color": "#000"}]}}
                      ]
                    }
                  }
                },
                {
                  "data": {"name": "bars"}, "transform": [{"filter": "datum.panel == 'C' && isValid(datum.upper)"}],
                  "mark": {"type": "rule", "strokeWidth": 1.5, "color": "black"},
                  "encoding": {"x": {"field": "bar", "type": "nominal", "title": null}, "y": {"field": "value", "type": "quantitative", "title": "Relative abundance"}, "y2": {"field": "upper"}}
                },
                {
                  "data": {"name": "bars"}, "transform": [{"filter": "datum.panel == 'C' && isValid(datum.upper)"}],
                  "mark": {"type": "tick", "thickness": 1.5, "size": 13, "color": "black", "opacity": 1},
                  "encoding": {"x": {"field": "bar", "type": "nominal", "title": null}, "y": {"field": "upper", "type": "quantitative", "title": "Relative abundance"}}
                },
                {
                  "data": {"name": "sig"}, "transform": [{"filter": "datum.panel == 'C'"}],
                  "mark": {"type": "rule", "strokeWidth": 2, "color": "black"},
                  "encoding": {"x": {"field": "from", "type": "nominal", "title": null}, "x2": {"field": "to"}, "y": {"field": "y", "type": "quantitative", "title": "Relative abundance"}}
                },
                {
                  "data": {"name": "sig"}, "transform": [{"filter": "datum.panel == 'C'"}],
                  "mark": {"type": "text", "fontSize": 14, "baseline": "alphabetic", "dy": 3, "color": "black"},
                  "encoding": {"x": {"field": "mid", "type": "nominal", "title": null}, "y": {"field": "y", "type": "quantitative", "title": "Relative abundance"}, "text": {"field": "label"}}
                }
              ]
            },
            {
              "data": {"name": "groups"},
              "encoding": {"y": {"field": "level", "type": "ordinal", "scale": {"type": "point", "domain": ["1", "2"], "range": [192, 221], "padding": 0}, "axis": null}},
              "layer": [
                {"mark": {"type": "rule", "strokeWidth": 2, "color": "black"}, "encoding": {"x": {"field": "from", "type": "nominal", "bandPosition": 0.12, "title": null}, "x2": {"field": "to", "bandPosition": 0.88}}},
                {"transform": [{"filter": "!isValid(datum.suffix)"}], "mark": {"type": "text", "fontSize": 12, "baseline": "middle", "dy": 11, "dx": -5.8, "color": "black"}, "encoding": {"x": {"field": "mid", "type": "nominal", "bandPosition": 0, "title": null}, "text": {"field": "label"}}},
                {"transform": [{"filter": "isValid(datum.suffix)"}], "mark": {"type": "text", "fontSize": 12, "baseline": "middle", "align": "right", "dy": 11, "dx": 3, "color": "black"}, "encoding": {"x": {"field": "mid", "type": "nominal", "bandPosition": 0, "title": null}, "text": {"field": "label"}}},
                {"transform": [{"filter": "isValid(datum.suffix)"}], "mark": {"type": "text", "fontSize": 12, "fontStyle": "italic", "baseline": "middle", "align": "left", "dy": 11, "dx": 6, "color": "black"}, "encoding": {"x": {"field": "mid", "type": "nominal", "bandPosition": 0, "title": null}, "text": {"field": "suffix"}}}
              ]
            }
          ]
        }
      ]
    }
  ]
}
